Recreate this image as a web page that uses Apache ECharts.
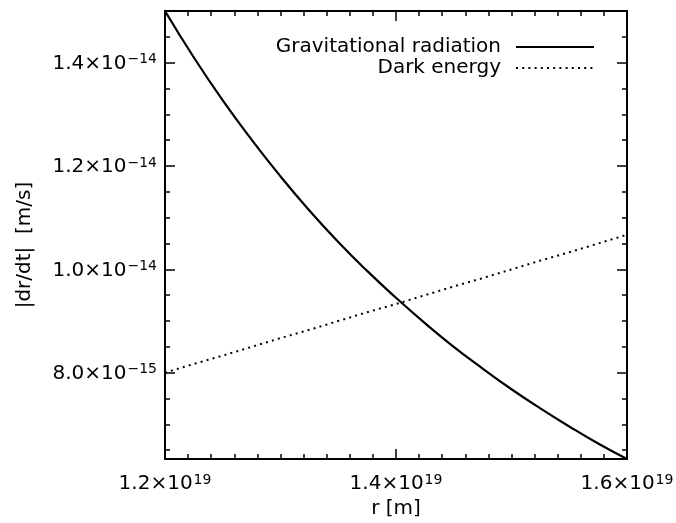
<!DOCTYPE html>
<html>
<head>
<meta charset="utf-8">
<script src="https://cdn.jsdelivr.net/npm/echarts@6/dist/echarts.min.js"></script>
<style>html,body{margin:0;padding:0;background:#fff}#c{width:676px;height:523px}</style>
</head>
<body>
<div id="c"></div>
<script>
// r in units of 1e19 m, |dr/dt| in units of 1e-15 m/s
var rValues = [1.200,1.225,1.250,1.275,1.300,1.325,1.350,1.375,1.400,1.425,1.450,1.475,1.500,1.525,1.550,1.575,1.600];
var gravRad = [15.00,14.10,13.27,12.51,11.80,11.14,10.53,9.97,9.45,8.96,8.50,8.08,7.68,7.31,6.96,6.63,6.33];
var darkEnergy = [8.00,8.17,8.33,8.50,8.67,8.83,9.00,9.17,9.33,9.50,9.67,9.83,10.00,10.17,10.33,10.50,10.67];
var xTicks = [1.2,1.4,1.6];
var xTickLabels = ['1.2×10|19','1.4×10|19','1.6×10|19'];
var xMinorTicks = [1.22,1.24,1.26,1.28,1.30,1.32,1.34,1.36,1.38,1.42,1.44,1.46,1.48,1.50,1.52,1.54,1.56,1.58];
var yTicks = [8,10,12,14];
var yTickLabels = ['8.0×10|−15','1.0×10|−14','1.2×10|−14','1.4×10|−14'];
var yMinorTicks = [6.5,7,7.5,8.5,9,9.5,10.5,11,11.5,12.5,13,13.5,14.5];
var seriesNames = ['Gravitational radiation','Dark energy'];
var xTitle = 'r [m]';
var yTitle = '|dr/dt|  [m/s]';

var xMin = 1.2, xMax = 1.6, yMin = 6.33, yMax = 15.0;
var FONT = 'DejaVu Sans';

function fmtLabel(list, ticks) {
  return function (v) {
    for (var i = 0; i < ticks.length; i++) {
      if (Math.abs(v - ticks[i]) < 1e-6) {
        var p = list[i].split('|');
        return '{b|' + p[0] + '}{s|' + p[1] + '}';
      }
    }
    return '';
  };
}
var rich = {
  b: {fontSize: 20, fontFamily: FONT, color: '#000', lineHeight: 22, verticalAlign: 'bottom'},
  s: {fontSize: 14, fontFamily: FONT, color: '#000', lineHeight: 22, verticalAlign: 'top', padding: [1,0,0,1]}
};

function xAxisDef(pos, major, showLabel) {
  return {
    type: 'value', position: pos, min: xMin, max: xMax,
    axisLine: {show: true, onZero: false, lineStyle: {color: '#000', width: 2}},
    axisTick: {show: true, inside: true, length: major ? 10 : 5, customValues: major ? xTicks : xMinorTicks, lineStyle: {color: '#000', width: 1.5}},
    axisLabel: {show: showLabel, margin: 13, customValues: xTicks, formatter: fmtLabel(xTickLabels, xTicks), rich: rich},
    splitLine: {show: false},
    name: showLabel ? xTitle : '', nameLocation: 'middle', nameGap: 40,
    nameTextStyle: {fontSize: 20, fontFamily: FONT, color: '#000'}
  };
}
function yAxisDef(pos, major, showLabel) {
  return {
    type: 'value', position: pos, min: yMin, max: yMax,
    axisLine: {show: true, onZero: false, lineStyle: {color: '#000', width: 2}},
    axisTick: {show: true, inside: true, length: major ? 10 : 5, customValues: major ? yTicks : yMinorTicks, lineStyle: {color: '#000', width: 1.5}},
    axisLabel: {show: showLabel, margin: 8, customValues: yTicks, formatter: fmtLabel(yTickLabels, yTicks), rich: rich},
    splitLine: {show: false},
    name: showLabel ? yTitle : '', nameLocation: 'middle', nameGap: 130,
    nameTextStyle: {fontSize: 20, fontFamily: FONT, color: '#000', padding: [0, 20, 0, 0]}
  };
}

function pairs(ys) { return rValues.map(function (x, i) { return [x, ys[i]]; }); }

var chart = echarts.init(document.getElementById('c'), null, {renderer: 'canvas'});
chart.setOption({
  animation: false,
  backgroundColor: '#fff',
  grid: {left: 165, right: 49, top: 11, bottom: 64, containLabel: false, outerBoundsMode: 'none'},
  xAxis: [xAxisDef('bottom', true, true), xAxisDef('bottom', false, false), xAxisDef('top', true, false), xAxisDef('top', false, false)],
  yAxis: [yAxisDef('left', true, true), yAxisDef('left', false, false), yAxisDef('right', true, false), yAxisDef('right', false, false)],
  legend: {
    orient: 'vertical', right: 81, top: 37, align: 'right', padding: 0,
    itemWidth: 78, itemHeight: 16, itemGap: 1,
    itemStyle: {opacity: 0},
    textStyle: {fontSize: 20, lineHeight: 16, fontFamily: FONT, color: '#000', padding: [0, 10, 0, 0]},
    data: seriesNames
  },
  series: [
    {name: seriesNames[0], type: 'line', data: pairs(gravRad), smooth: true, showSymbol: false, symbol: 'none',
     lineStyle: {color: '#000', width: 2.2}, itemStyle: {color: '#000'}},
    {name: seriesNames[1], type: 'line', data: pairs(darkEnergy), showSymbol: false, symbol: 'none',
     lineStyle: {color: '#000', width: 2, type: [2, 4.2]}, itemStyle: {color: '#000'}}
  ]
});
</script>
</body>
</html>
